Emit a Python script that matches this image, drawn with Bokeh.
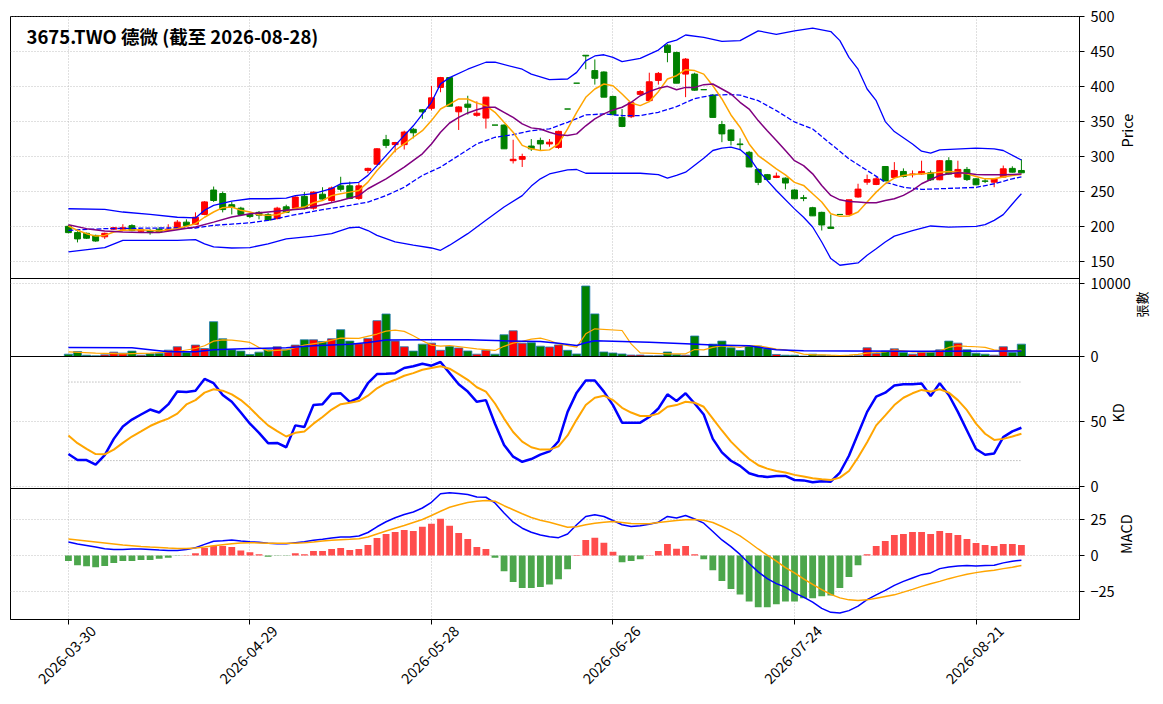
from math import pi

from bokeh.embed import file_html
from bokeh.layouts import column
from bokeh.models import ColumnDataSource, FixedTicker, Label, LinearAxis, Range1d
from bokeh.plotting import figure
from bokeh.resources import INLINE

FONT = "Noto Sans CJK TC"

title_text = "3675.TWO 德微 (截至 2026-08-28)"
tick_idx = [0, 20, 40, 60, 80, 100]
tick_dates = ["2026-03-30", "2026-04-29", "2026-05-28", "2026-06-26", "2026-07-24", "2026-08-21"]

# daily candles (trading-day index 0..105)
opens = [200, 191, 190, 187, 185, 196, 196, 201, 193, 194,
         196, 194, 198, 206, 203, 217, 252, 247, 231, 226,
         217, 220, 217, 211, 228, 226, 243, 226, 246, 237,
         258, 258, 240, 280, 289, 324, 317, 317, 339, 367,
         369, 399, 413, 364, 375, 359, 355, 345, 345, 294,
         296, 315, 323, 318, 313, 368, 405, 445, 423, 421,
         386, 356, 357, 389, 380, 409, 459.5, 449, 418, 418,
         395.7, 388, 345.7, 338, 318, 306, 281.5, 274, 270, 269,
         252, 241, 226.7, 220, 199, 217, 216.7, 242, 263.3, 260,
         285.7, 270, 278.6, 274, 275, 276.7, 266.7, 294, 270.5, 281.5,
         268, 265, 263.3, 270.5, 283, 280]
highs = [202, 193, 191, 188, 191, 199, 203, 203, 196, 196,
         199, 203, 209, 210, 220, 236, 257, 250, 235, 228,
         219, 222, 219, 228, 231, 243, 249, 250, 256, 257,
         271, 264, 262, 284, 312, 331, 321, 337, 341, 368,
         401, 414, 414, 372, 387, 379, 385, 345, 346, 324,
         304, 325, 327, 325, 337, 368, 405, 445, 439, 422,
         387, 368, 378, 395, 420, 421, 461, 450, 441, 420,
         395.7, 389, 351, 339, 326, 308, 283, 275, 277, 270,
         253, 245, 228, 221, 217, 217, 238, 261, 274, 270.5,
         286, 292, 283, 280, 294, 280, 295, 299, 294, 285,
         269, 268, 269, 287, 286, 296]
lows = [190, 177, 182, 178, 182, 195, 195, 193, 191, 188,
        191, 193, 197, 199, 202, 216, 235, 220, 217, 216,
        212, 210, 208, 210, 219, 224, 224, 224, 238, 235,
        250, 239, 238, 276, 288, 312, 306, 310, 326, 354,
        366, 392, 372, 338, 360, 357, 340, 345, 311, 290,
        285, 308, 308, 314, 311, 368, 405, 425, 403, 385,
        360, 342, 355, 388, 378, 403, 435, 405, 385, 394,
        395.7, 356, 320.5, 316, 309, 285, 259, 266, 269, 253,
        239, 236, 215, 194, 197, 217, 216, 241, 259.5, 259,
        265, 269, 270, 270, 274, 265, 266, 274, 270, 265,
        259, 262, 256, 270, 277, 276]
closes = [191, 182, 183, 179, 190, 198, 198, 194, 195, 191,
          192, 196, 206, 201, 213, 235, 237, 224, 227, 217,
          214, 216, 209, 226, 220, 242, 226, 249, 239, 255,
          253, 240, 258, 283, 311, 316, 320, 335, 334, 364,
          384, 413, 372, 371, 370.5, 362, 385, 345, 311, 296,
          300, 311, 318, 320.5, 336, 368, 405, 444, 412, 385,
          360, 343, 377, 393, 407, 419, 449, 405, 439.5, 395,
          395.7, 356, 332.4, 323, 317, 285, 263, 267, 272, 262,
          239.5, 240, 215, 202, 197, 217, 238, 253.3, 267, 268,
          265, 280, 271.4, 275, 278.6, 266.7, 294, 274.8, 281.5, 267,
          259.5, 264.5, 268, 282.4, 277.6, 276.7]
volumes = [320, 690, 180, 90, 230, 600, 460, 740, 180, 370,
           415, 875, 1340, 550, 1570, 1100, 4790, 2440, 920, 740,
           280, 600, 920, 1340, 920, 1570, 2300, 2300, 2070, 2440,
           3690, 2120, 1750, 2490, 4930, 5850, 2120, 1340, 740, 1700,
           1840, 850, 1380, 1170, 760, 320, 870, 320, 2990, 3540,
           1840, 1900, 1420, 1310, 1590, 850, 350, 9700, 5860, 620,
           480, 350, 200, 200, 110, 110, 620, 250, 180, 2820,
           30, 1700, 2120, 1200, 830, 1430, 1430, 1060, 280, 180,
           180, 50, 320, 180, 90, 20, 90, 90, 1200, 415,
           740, 1060, 550, 320, 550, 550, 920, 2120, 1840, 920,
           460, 320, 180, 1340, 550, 1700]

# price overlays
bb_up_idx = [0, 4, 6, 9, 12, 14, 15, 16, 18, 20, 22, 24, 25, 27, 29, 30, 32, 33, 34, 36,
             38, 40, 41, 42, 44, 46, 47, 50, 51, 53, 55, 56, 57, 58, 59, 60, 61, 63, 65, 66,
             67, 68, 70, 72, 74, 76, 78, 80, 82, 84, 85, 86, 87, 88, 89, 90, 91, 93, 94, 95,
             96, 100, 102, 103, 105]
bb_up = [225.2, 224.3, 220.5, 217, 213, 212, 223, 230, 236, 239.5, 239.5, 240.5, 244, 246.7, 254, 261, 263, 273, 287, 316,
         344, 377.6, 404, 413, 425, 435, 435, 425, 418, 410, 411, 420.5, 437, 444, 445.7, 442, 436, 440.5, 452.4, 463,
         466.7, 474, 470.5, 465, 466, 480, 475, 480, 484, 479, 466, 442, 425, 396.7, 380, 350, 335.7, 318, 307.6, 304.8,
         309.5, 312, 311, 308.6, 295]
bb_mid_idx = [0, 4, 10, 14, 16, 20, 22, 25, 28, 31, 33, 35, 37, 39, 41, 43, 45, 47, 49, 51,
              53, 55, 57, 59, 61, 63, 65, 67, 69, 71, 73, 74, 76, 78, 80, 82, 84, 86, 88, 90,
              92, 94, 96, 98, 100, 102, 104, 105]
bb_mid = [194.3, 196.7, 197.6, 197.6, 201.4, 205, 208.6, 216.7, 223.8, 230, 234.8, 244, 256, 272.9, 284.8, 301.4, 318, 327.6, 331.4, 337,
          339.5, 349, 359.5, 361, 358.6, 358.6, 363.3, 371.4, 383, 388, 388.6, 388, 380, 365.7, 349.5, 339.5, 318, 296.7, 280, 263.3,
          256, 252.9, 253.8, 254.8, 255.7, 261, 268, 271]
bb_low_idx = [0, 3, 4, 6, 12, 14, 15, 16, 18, 20, 22, 23, 24, 27, 29, 31, 32, 33, 34, 36,
              38, 40, 41, 42, 44, 46, 48, 50, 51, 52, 53, 55, 56, 57, 60, 63, 65, 66, 67, 68,
              70, 71, 72, 73, 74, 75, 76, 78, 80, 81, 82, 83, 84, 85, 87, 88, 89, 90, 91, 93,
              95, 97, 100, 101, 102, 103, 104, 105]
bb_low = [163.3, 168, 169.5, 180, 180, 181, 175, 170.5, 169, 169.5, 175, 178.6, 182, 186, 189.5, 198, 199, 194, 187, 177.6,
          173, 169, 165.7, 173, 189.5, 208.6, 227.6, 244, 257.6, 268, 275, 281, 281.4, 276, 276, 276, 274, 269, 273, 277.6,
          297.6, 308.6, 312, 313.3, 310, 299, 280, 251.4, 225, 213, 199, 177.6, 153.8, 144.3, 147.6, 158.6, 168, 177.6, 186, 194,
          200.5, 199, 200, 202.4, 208.6, 216.7, 232, 246.7]
ma5_idx = [0, 1, 2, 3, 4, 5, 6, 8, 10, 12] + list(range(13, 106))
ma5 = [200.5, 194.3, 189.5, 186, 187, 191.9, 194.3, 195, 193.3, 196.7,
       200, 203.8, 213, 220.5, 226.7, 227.6, 222.9, 220.5, 216.7, 215.7,
       216.7, 220.5, 226, 227.6, 233.8, 237, 244, 246.7, 249, 251.4,
       263.3, 280, 294, 308.6, 318, 327.6, 337, 351.4, 368, 375,
       382.4, 382.4, 376.7, 372.9, 363.3, 349, 334.8, 316, 311, 308.6,
       309.5, 318, 339.5, 363.3, 384.8, 396.7, 403.8, 401.4, 389.5, 376.7,
       372.9, 378.6, 392.9, 411, 415.7, 424.3, 423, 418, 401.4, 382.4,
       359.5, 342, 318, 301.4, 292, 282.4, 273.8, 263, 258.6, 246.7,
       234.8, 218, 214.3, 214.8, 220.5, 234.8, 249, 261, 269, 272.9,
       274.3, 275.2, 276.2, 277.6, 278.6, 277.6, 275.2, 271.4, 268, 268,
       270.5, 272.9, 274.3]
ma10_idx = [0, 2, 4, 6, 8, 10, 12, 14, 16, 18, 20, 22, 24, 26, 28, 30, 32, 33, 35, 37, 39] + list(range(40, 106))
ma10 = [202.4, 196.7, 193.3, 191.9, 191, 191, 195, 199, 206, 213.3, 218, 220.5, 222.9, 225.2, 231, 237, 244, 253.8, 268, 284.8, 303.8,
        318, 334.8, 348, 356, 362.4, 367, 370.5, 370.5, 363.3, 356,
        346.7, 341, 339.5, 334.8, 331, 330, 332.4, 344, 353.8, 361,
        366.7, 370.5, 377.6, 387, 393, 397.6, 400.5, 395.7, 399, 399,
        402.9, 403.8, 396.7, 389.5, 377.6, 368, 351.4, 337, 322.9, 308.6,
        294, 287, 275.2, 258.6, 244.3, 238, 235.7, 234.8, 233.8, 233.8,
        237, 239.5, 244.3, 251.4, 261, 267, 272.9, 275.2, 276.7, 276.2,
        274.3, 273.8, 273.8, 273.8, 274.3, 274.8]

# volume overlays
vol_ma5_idx = [0, 3, 6, 9, 12, 14, 15, 16, 17, 18, 19, 20, 21, 22, 24, 26, 28, 30, 32,
               34, 35, 36, 37, 38, 39, 40, 41, 42, 45, 47, 48, 49, 50, 51, 52, 53, 54,
               56, 57, 58, 61, 62, 63, 66, 68] + list(range(69, 106))
vol_ma5 = [645, 460, 370, 460, 690, 1100, 1475, 2120, 2300, 2260, 2120, 1935, 1245, 780, 920, 1570, 1935, 2535, 2490,
           3090, 3500, 3640, 3460, 2860, 2170, 1570, 1420, 1510, 1060, 830, 1400, 1835, 2100, 2400, 2520, 2200, 1740,
           1280, 3120, 3810, 3580, 1740, 500, 370, 370,
           960, 920, 1245, 1475, 1380, 1245, 1475, 1475, 1245, 1010,
           920, 645, 320, 230, 230, 180, 140, 180, 280, 460,
           550, 645, 875, 780, 645, 645, 645, 780, 1245, 1475,
           1380, 1340, 1245, 920, 780, 780, 875]
vol_ma20_idx = [0, 7, 11, 14, 16, 20, 24, 27, 31, 33, 35, 40, 44, 48, 52, 54, 56, 57, 58, 61,
                64, 68, 71, 75, 78, 81, 86, 94, 105]
vol_ma20 = [1240, 1200, 650, 650, 920, 1100, 1200, 1475, 1700, 1935, 2260, 2290, 2290, 2160, 2060, 1835, 1510, 1880, 2160, 2060,
            1970, 1740, 1570, 1475, 920, 780, 740, 720, 760]

# KD
k_vals = [25, 20.4, 20.4, 17, 24.2, 36.6, 46.1, 51.3, 55.2, 59,
          56.7, 62.9, 72.7, 72.4, 73.4, 82.4, 79.1, 70.1, 64.9, 56.7,
          48.2, 41.2, 33.3, 33.5, 30.2, 46.9, 45.6, 62.4, 63.1, 71.1,
          71.4, 64.9, 68, 79.1, 86.1, 86.3, 86.8, 90.7, 92, 94,
          92.5, 95.3, 86.8, 78.3, 72.7, 64.9, 66.2, 48.2, 32, 23,
          19.1, 21.2, 24.6, 27, 34.8, 57.2, 71.9, 81.2, 81.2, 72.7,
          62.4, 49, 49, 49, 53.3, 59.8, 70.6, 65.5, 71.4, 63.6,
          55.2, 36.6, 26.3, 19.9, 16, 10.3, 8.3, 7.5, 8.3, 8.3,
          5.2, 4.9, 3.4, 4.2, 3.9, 10.9, 23.7, 40.5, 57.2, 68.8,
          71.9, 77.3, 78.3, 78.3, 78.8, 69.3, 79.1, 70.1, 57.2, 43,
          28.9, 24.5, 25.5, 37.9, 42.3, 45.1]
d_vals = [39.2, 33.3, 28.9, 25, 24.8, 28.4, 33.5, 38.4, 42.3, 46.4,
          49.5, 52.1, 55.9, 62.9, 66.2, 71.9, 74.5, 73.4, 70.6, 66.2,
          60.3, 53.3, 46.9, 42.5, 38.4, 41.2, 42.3, 48.2, 53.3, 59,
          63.1, 64.2, 65.5, 69.6, 75.2, 79.1, 81.7, 84.8, 86.8, 89.4,
          90.7, 92, 90.2, 86.1, 81.7, 76, 72.7, 63.6, 52.1, 41.8,
          34.5, 30.2, 28.4, 28.4, 30.9, 39.2, 51.3, 62.4, 68, 69.6,
          66.2, 60.3, 56.7, 54.1, 54.1, 55.9, 61.1, 62.4, 64.9, 64.2,
          61.1, 52.1, 43, 34.5, 27.6, 21.2, 16.5, 13.9, 12.1, 10.9,
          9.1, 7.8, 6.5, 5.7, 5.2, 7, 12.1, 22.4, 34, 46.9,
          54.6, 62.4, 68, 71.4, 74, 72.7, 74.5, 71.9, 66.2, 58.5,
          48.2, 40.5, 35.8, 36.6, 38.4, 40.5]
kd_levels = [20, 80]

# MACD
dif = [9.4, 8, 7, 5.9, 4.7, 4.2, 4.2, 4.5, 4.5, 4.2,
       3.8, 3.5, 3.5, 4.2, 5.4, 7.7, 9.9, 10.3, 10.8, 10.1,
       9.6, 9.2, 8.5, 8.2, 8.2, 8.9, 9.6, 10.6, 11.3, 12.2,
       12.9, 12.9, 13.6, 16, 20, 23.5, 26.3, 28.6, 30.3, 33.1,
       37.1, 43, 43.7, 43.2, 42.5, 40.8, 40.6, 36.6, 29.6, 23.2,
       19, 16.2, 14.3, 13, 12.4, 15, 21.4, 27.2, 28.4, 27.2,
       24.4, 21.4, 20.2, 20.7, 21.8, 23.2, 27.2, 26.1, 27.9, 25.4,
       22.5, 16.7, 10.8, 6.1, 0.7, -5.6, -11.5, -16.2, -19.7, -22.1,
       -26.1, -29.1, -32.6, -36.9, -39.7, -40.1, -38.5, -35.4, -30.8, -27.5,
       -24.4, -20.9, -18.1, -15.7, -13.4, -12.2, -9.2, -8, -7.3, -7,
       -7.3, -7, -6.8, -5.2, -4, -3.3]
dea = [11.5, 10.8, 10.1, 9.4, 8.7, 8, 7.3, 6.8, 6.3, 5.9,
       5.6, 5.2, 4.9, 4.9, 5.2, 5.9, 6.8, 7.5, 8.2, 8.7,
       8.9, 8.7, 8.5, 8.5, 8.5, 8.5, 8.9, 9.4, 10.1, 10.6,
       11, 11.3, 11.7, 12.9, 15, 17.1, 19, 20.9, 23, 25.1,
       27.9, 30.8, 33.6, 35.4, 36.9, 37.8, 38.3, 37.8, 34.7, 31.9,
       29.1, 26.5, 24.6, 23.1, 21.4, 19.7, 20, 21.4, 22.5, 23.2,
       23.7, 23, 22.3, 22.1, 22.1, 23, 23.7, 24.4, 24.9, 25.1,
       24.6, 23, 20.2, 17.1, 13.6, 9.2, 4.5, 0.2, -4, -8.5,
       -12.2, -16.4, -20.2, -23.9, -27.2, -29.6, -31, -31.5, -31, -29.8,
       -28.6, -27.5, -25.6, -23.7, -21.6, -19.7, -18.1, -16.2, -14.6, -13.1,
       -12, -11, -10.3, -9.2, -8.2, -7]
osc = [-3.8, -6.8, -7.5, -8.2, -7.3, -5.2, -3.8, -3.8, -3.1, -3.1,
       -2.3, -1.6, -0.2, 0.2, 1.6, 5.2, 6.8, 6.6, 5.9, 3.5,
       2.3, 0.9, -0.9, -0.2, -0.2, 1.6, 0.9, 3.1, 3.1, 4.5,
       5.2, 3.8, 4.5, 7.3, 12.2, 15, 16.4, 17.8, 17.1, 20,
       22.1, 25.6, 20.7, 15.7, 11.5, 5.9, 4.5, -1.6, -11, -18.5,
       -22.8, -22.8, -22.1, -20.2, -16.7, -9.6, 0.3, 10.8, 12.4, 8.9,
       2.6, -4.7, -3.8, -2.6, 0.2, 3.1, 8, 4.7, 6.6, 0.9,
       -2.6, -10.3, -17.8, -23.5, -27.2, -32.2, -36.2, -36.2, -34, -32.2,
       -32.2, -29.8, -29.8, -28.4, -27.9, -22.8, -15, -6.8, 0.9, 6.6,
       10.1, 14.3, 15, 16.4, 16.4, 15, 17.1, 15.7, 14.3, 11.5,
       8.7, 7.3, 6.6, 8, 8, 7.3]

n = len(closes)
xs = list(range(n))
candle_colors = ["#ff0000" if c > o else "#008000" for o, c in zip(opens, closes)]
src = ColumnDataSource(dict(
    x=xs, high=highs, low=lows, vol=volumes, color=candle_colors,
    top=[max(o, c) for o, c in zip(opens, closes)],
    bot=[min(o, c) for o, c in zip(opens, closes)],
))
osc_src = ColumnDataSource(dict(
    x=xs, osc=osc, color=["#ff4d4d" if v > 0 else "#4ca64c" for v in osc],
))

# panel geometry: frame heights in px, y limits; panels overlap by 2*E so
# tick labels sitting on a shared edge are not cut by the canvas
W, LEFT, RIGHT, E = 1163, 10, 80, 12
price_h, vol_h, kd_h, macd_h = 262, 78, 132, 131
price_lo, price_hi = 125.3, 500.5
vol_lo, vol_hi = 0, 10734
kd_lo, kd_hi = -1.3, 99.5
macd_lo, macd_hi = -44.7, 46.7

x_start, x_end = -6.38, 111.4
x_range = Range1d(x_start, x_end)
px_per_x = (W - LEFT - RIGHT) / (x_end - x_start)


def panel(frame_h, y_lo, y_hi, ticks, label, label_size="14.5px", standoff=6,
          top=E, bottom=E, x_axis=None, overlap=True):
    p = figure(width=W, height=frame_h + top + bottom, x_range=x_range,
               y_range=Range1d(y_lo, y_hi), y_axis_location="right",
               x_axis_location=x_axis, output_backend="svg", toolbar_location=None,
               min_border_left=LEFT, min_border_right=RIGHT,
               min_border_top=top, min_border_bottom=bottom)
    if overlap:
        p.margin = (-2 * E, 0, 0, 0)
    p.outline_line_color = "black"
    p.outline_line_width = 1
    p.background_fill_alpha = 0
    p.border_fill_alpha = 0
    p.xgrid.ticker = FixedTicker(ticks=tick_idx)
    p.ygrid.ticker = FixedTicker(ticks=ticks)
    for g in (p.xgrid, p.ygrid):
        g.grid_line_color = "#b0b0b0"
        g.grid_line_dash = "1 2"
        g.grid_line_width = 0.8
    ax = p.yaxis[0]
    ax.ticker = FixedTicker(ticks=ticks)
    ax.axis_line_color = "black"
    ax.major_tick_line_color = "black"
    ax.major_tick_out = 5
    ax.major_tick_in = 0
    ax.minor_tick_out = 0
    ax.minor_tick_in = 0
    ax.major_label_standoff = 6
    ax.major_label_text_font = FONT
    ax.major_label_text_font_size = "14.5px"
    ax.major_label_text_color = "black"
    ax.axis_label = label
    ax.axis_label_text_font = FONT
    ax.axis_label_text_font_size = label_size
    ax.axis_label_text_font_style = "normal"
    ax.axis_label_text_color = "black"
    ax.axis_label_standoff = standoff
    if "axis_label_orientation" in ax.properties():
        ax.axis_label_orientation = pi / 2
    return p


# 1. price
p1 = panel(price_h, price_lo, price_hi, [150, 200, 250, 300, 350, 400, 450, 500],
           "Price", standoff=9, top=16, overlap=False)
p1.segment(x0="x", y0="low", x1="x", y1="high", line_color="color", line_width=1, source=src)
p1.vbar(x="x", bottom="bot", top="top", width=0.65, fill_color="color",
        line_color="color", line_width=1, source=src)
p1.line(bb_up_idx, bb_up, line_color="#0000ff", line_width=1.3)
p1.line(bb_low_idx, bb_low, line_color="#0000ff", line_width=1.3)
p1.line(bb_mid_idx, bb_mid, line_color="#0000ff", line_width=1.3, line_dash="5 2")
p1.line(ma5_idx, ma5, line_color="orange", line_width=1.5)
p1.line(ma10_idx, ma10, line_color="purple", line_width=1.5)
price_scale = price_h / (price_hi - price_lo)
p1.add_layout(Label(x=x_start, y=price_hi - 19 / price_scale, x_offset=16,
                    text=title_text, text_baseline="middle", text_font=FONT,
                    text_font_style="bold", text_font_size="18.5px", text_color="black"))

# 2. volume
p2 = panel(vol_h, vol_lo, vol_hi, [0, 10000], "張數", label_size="13px", standoff=8)
p2.vbar(x="x", bottom=0, top="vol", width=0.9, fill_color="color",
        line_color="#1f77b4", line_width=0.8, source=src)
p2.line(vol_ma5_idx, vol_ma5, line_color="orange", line_width=1.2)
p2.line(vol_ma20_idx, vol_ma20, line_color="#0000ff", line_width=1.5)

# 3. KD
p3 = panel(kd_h, kd_lo, kd_hi, [0, 50], "KD", standoff=8)
for lv in kd_levels:
    p3.line([0, n - 1], [lv, lv], line_color="#999999", line_width=1, line_dash="1 2")
p3.line(xs, k_vals, line_color="#0000ff", line_width=2.5)
p3.line(xs, d_vals, line_color="orange", line_width=2)

# 4. MACD
p4 = panel(macd_h, macd_lo, macd_hi, [-25, 0, 25], "MACD", standoff=8,
           bottom=80, x_axis="below")
p4.vbar(x="x", bottom=0, top="osc", width=0.75, fill_color="color",
        line_color=None, source=osc_src)
p4.line(xs, dif, line_color="#0000ff", line_width=1.5)
p4.line(xs, dea, line_color="orange", line_width=1.5)

# tick marks on the shared index axis
xa = p4.xaxis[0]
xa.ticker = FixedTicker(ticks=tick_idx)
xa.major_label_overrides = {t: "" for t in tick_idx}
xa.major_label_text_font_size = "1px"
xa.major_label_standoff = 0
xa.axis_line_color = "black"
xa.major_tick_line_color = "black"
xa.major_tick_out = 5
xa.major_tick_in = 0
xa.minor_tick_out = 0
xa.minor_tick_in = 0

# date labels: a second axis on a range shifted so each rotated label is centred on its tick
shift = 25 / px_per_x
p4.extra_x_ranges = {"dates": Range1d(x_start - shift, x_end - shift)}
date_axis = LinearAxis(x_range_name="dates", ticker=FixedTicker(ticks=tick_idx),
                       major_label_overrides=dict(zip(tick_idx, tick_dates)),
                       major_label_orientation=pi / 4, major_label_standoff=4,
                       major_label_text_font=FONT, major_label_text_font_size="14.5px",
                       major_label_text_color="black", axis_line_color=None,
                       major_tick_out=0, major_tick_in=0, minor_tick_out=0, minor_tick_in=0)
p4.add_layout(date_axis, "below")

layout = column(p1, p2, p3, p4, spacing=0)
open("out.html", "w").write(file_html(layout, INLINE))
